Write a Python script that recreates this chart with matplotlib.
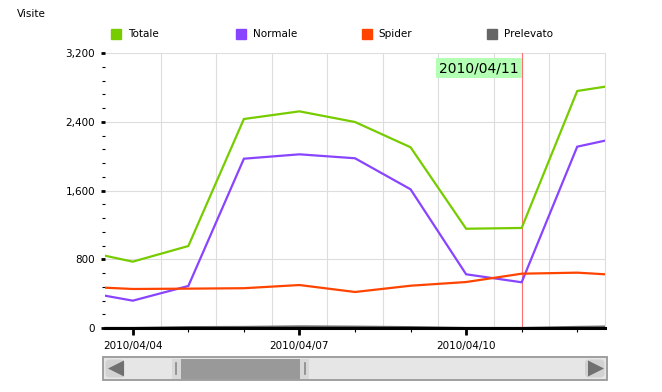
import datetime as dt
import matplotlib
matplotlib.use('Agg')
import matplotlib.pyplot as plt
import matplotlib.dates as mdates
from matplotlib.ticker import MultipleLocator, FuncFormatter
from matplotlib.patches import Rectangle, Polygon, FancyBboxPatch

# data (visits per day)
days = [dt.datetime(2010, 4, d) for d in range(3, 14)]
totale = [910, 772, 954, 2432, 2521, 2397, 2103, 1155, 1164, 2758, 2858]
normale = [434, 318, 489, 1970, 2021, 1975, 1614, 625, 532, 2110, 2250]
spider = [484, 454, 458, 463, 500, 419, 492, 535, 632, 644, 606]
prelevato = [0, 0, 10, 12, 18, 15, 10, 0, 0, 12, 20]

series_names = ['Totale', 'Normale', 'Spider', 'Prelevato']
series_colors = ['#77cc00', '#8844ff', '#ff4400', '#666666']
cursor_day = dt.datetime(2010, 4, 11)
view = (dt.datetime(2010, 4, 3, 12), dt.datetime(2010, 4, 12, 12))

W, H = 662, 392
fig = plt.figure(figsize=(W / 100, H / 100), dpi=100)
ax = fig.add_axes([105 / W, 1 - 328 / H, 500 / W, 275 / H])

for vals, color in zip([totale, normale, spider, prelevato], series_colors):
    ax.plot(days, vals, color=color, lw=1.6, solid_joinstyle='miter', zorder=3)

ax.set_xlim(view)
ax.set_ylim(0, 3200)

# y axis
ax.yaxis.set_major_locator(MultipleLocator(800))
ax.yaxis.set_minor_locator(MultipleLocator(160))
ax.yaxis.set_major_formatter(FuncFormatter(lambda v, p: f'{int(v):,}'))
ax.tick_params(axis='y', which='major', length=3, width=2, pad=4, labelsize=7.5)
ax.tick_params(axis='y', which='minor', length=2.5, width=0.8)
ax.grid(axis='y', which='major', color='#dddddd', lw=0.8, zorder=0)

# x axis
ax.xaxis.set_major_locator(mdates.DayLocator(bymonthday=[4, 7, 10]))
ax.xaxis.set_minor_locator(mdates.DayLocator())
ax.xaxis.set_major_formatter(mdates.DateFormatter('%Y/%m/%d'))
ax.tick_params(axis='x', which='major', length=5, width=2, pad=4, labelsize=7.5)
ax.tick_params(axis='x', which='minor', length=3, width=0.8)
for d in days:
    noon = d + dt.timedelta(hours=12)
    if view[0] < noon <= view[1]:
        ax.axvline(noon, color='#dddddd', lw=0.8, zorder=0, clip_on=False)

for s in ['left', 'top', 'right']:
    ax.spines[s].set_visible(False)
ax.spines['bottom'].set_linewidth(2.2)
ax.spines['bottom'].set_zorder(4)

# cursor
ax.axvline(cursor_day, color='#ff7070', lw=0.8, zorder=2)
ax.annotate(cursor_day.strftime('%Y/%m/%d'), xy=(cursor_day, 1),
            xycoords=('data', 'axes fraction'), xytext=(-2, -11),
            textcoords='offset points', ha='right', va='center', fontsize=10,
            bbox=dict(boxstyle='square,pad=0.2', fc='#b3ffb3', ec='none'), zorder=5)

# overlay in pixel coords: title, legend, scrollbar
ov = fig.add_axes([0, 0, 1, 1], facecolor='none')
ov.set_xlim(0, W)
ov.set_ylim(H, 0)
ov.axis('off')

ov.text(17, 14, 'Visite', fontsize=7.5, va='center', ha='left')
for i, (name, color) in enumerate(zip(series_names, series_colors)):
    x0 = 111 + i * 125.3
    ov.add_patch(Rectangle((x0, 28.5), 10, 10, color=color))
    ov.text(x0 + 17, 33.5, name, fontsize=7.5, va='center', ha='left')

# scrollbar
ov.add_patch(Rectangle((103, 357), 504, 23, fc='#e6e6e6', ec='#999999', lw=1.3))
ov.add_patch(FancyBboxPatch((105.5, 359.5), 19, 18, boxstyle='round,pad=0,rounding_size=4',
                            fc='#d2d2d2', ec='none'))
ov.add_patch(FancyBboxPatch((585, 359.5), 19.5, 18, boxstyle='round,pad=0,rounding_size=4',
                            fc='#d2d2d2', ec='none'))
ov.add_patch(Polygon([[108, 368.5], [124, 360.5], [124, 376.5]], fc='#707070', ec='none'))
ov.add_patch(Polygon([[604, 368.5], [588, 360.5], [588, 376.5]], fc='#707070', ec='none'))
ov.add_patch(Rectangle((172, 359), 137, 19.5, fc='#d8d8d8', ec='none'))
ov.add_patch(Rectangle((181, 359), 119, 19.5, fc='#999999', ec='none'))
for hx in (175.5, 304.5):
    ov.plot([hx, hx], [363, 374], color='#888888', lw=1.2)

fig.savefig('out.png', dpi=100)
